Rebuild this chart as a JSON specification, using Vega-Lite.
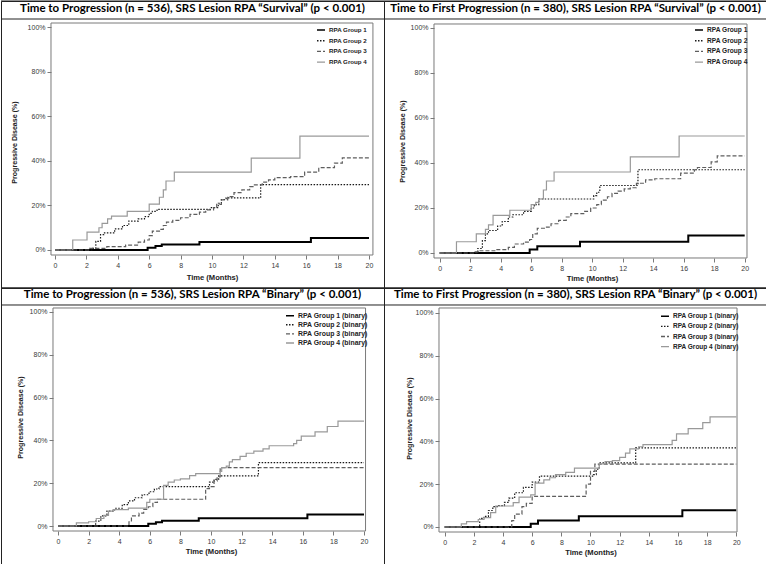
{
"$schema": "https://vega.github.io/schema/vega-lite/v6.json",
"padding": 0,
"background": "white",
"config": {
  "view": {"stroke": "#222", "strokeWidth": 1},
  "title": {"font": "Lato", "fontSize": 11.5, "fontWeight": "bold", "color": "#000", "anchor": "middle", "baseline": "middle"},
  "axis": {"grid": false, "domain": false, "tickSize": 4, "tickColor": "#7a7a7a", "labelFont": "Liberation Sans", "labelFontSize": 7, "labelColor": "#3a3a3a", "labelPadding": 2, "labelFlush": false, "labelOverlap": false, "labelSeparation": 0, "titleFont": "Liberation Sans", "titleFontWeight": "bold", "titleColor": "#222"},
  "axisX": {"titleFontSize": 7.6, "titleBaseline": "top", "titleAlign": "center", "labelOverlap": false},
  "axisY": {"titleFontSize": 7.1, "titleBaseline": "middle", "titleAngle": 270, "titleAlign": "center", "labelOverlap": false},
  "legend": {"orient": "none", "labelFont": "Liberation Sans", "labelFontWeight": "bold", "labelColor": "#222", "symbolType": "stroke", "symbolSize": 64, "symbolStrokeWidth": 1.4, "labelOffset": 3, "padding": 0}
},
"datasets": {
  "tl": [
    {"g":1,"t":0,"p":0},{"g":1,"t":5.9,"p":1.0},{"g":1,"t":6.4,"p":1.8},{"g":1,"t":6.8,"p":2.5},{"g":1,"t":9.2,"p":3.6},{"g":1,"t":16.3,"p":5.4},{"g":1,"t":20,"p":5.4},
    {"g":2,"t":0,"p":0},{"g":2,"t":2.4,"p":0.7},{"g":2,"t":2.6,"p":3.9},{"g":2,"t":2.9,"p":6.9},{"g":2,"t":3.1,"p":7.7},{"g":2,"t":3.8,"p":9.5},{"g":2,"t":4.3,"p":11},{"g":2,"t":4.7,"p":13},{"g":2,"t":5.3,"p":14},{"g":2,"t":5.7,"p":15},{"g":2,"t":6.0,"p":16.5},{"g":2,"t":6.2,"p":17.4},{"g":2,"t":6.5,"p":18.3},{"g":2,"t":9.9,"p":19},{"g":2,"t":10.4,"p":21},{"g":2,"t":10.6,"p":22.7},{"g":2,"t":10.9,"p":23.4},{"g":2,"t":13.1,"p":29.4},{"g":2,"t":20,"p":29.4},
    {"g":3,"t":0,"p":0},{"g":3,"t":2.2,"p":0.7},{"g":3,"t":3.3,"p":1.5},{"g":3,"t":4.5,"p":2.2},{"g":3,"t":5.3,"p":3.5},{"g":3,"t":5.7,"p":4.5},{"g":3,"t":6.0,"p":6.5},{"g":3,"t":6.2,"p":8.5},{"g":3,"t":6.7,"p":9.3},{"g":3,"t":6.9,"p":11},{"g":3,"t":7.1,"p":12.5},{"g":3,"t":7.5,"p":13.3},{"g":3,"t":8.0,"p":14.5},{"g":3,"t":8.6,"p":16},{"g":3,"t":9.2,"p":17},{"g":3,"t":9.6,"p":18},{"g":3,"t":10.1,"p":19},{"g":3,"t":10.3,"p":20.5},{"g":3,"t":10.6,"p":22.5},{"g":3,"t":11.0,"p":24},{"g":3,"t":11.4,"p":25.8},{"g":3,"t":11.9,"p":27},{"g":3,"t":12.4,"p":28.5},{"g":3,"t":12.7,"p":29.3},{"g":3,"t":13.2,"p":30.5},{"g":3,"t":13.6,"p":31.5},{"g":3,"t":14.0,"p":32.5},{"g":3,"t":15.0,"p":33},{"g":3,"t":15.9,"p":35},{"g":3,"t":16.8,"p":37},{"g":3,"t":17.8,"p":39},{"g":3,"t":18.3,"p":41.4},{"g":3,"t":20,"p":41.4},
    {"g":4,"t":0,"p":0},{"g":4,"t":1.13,"p":4.5},{"g":4,"t":2.04,"p":8},{"g":4,"t":2.8,"p":10},{"g":4,"t":3.0,"p":12},{"g":4,"t":3.35,"p":14},{"g":4,"t":3.6,"p":15.2},{"g":4,"t":4.6,"p":17.4},{"g":4,"t":6.0,"p":20.6},{"g":4,"t":6.65,"p":23.7},{"g":4,"t":6.9,"p":27},{"g":4,"t":7.07,"p":31},{"g":4,"t":7.6,"p":35},{"g":4,"t":12.5,"p":41.3},{"g":4,"t":15.6,"p":51.2},{"g":4,"t":20,"p":51.2}
  ],
  "tr": [
    {"g":1,"t":0,"p":0},{"g":1,"t":5.9,"p":1.5},{"g":1,"t":6.4,"p":3.0},{"g":1,"t":9.2,"p":5.0},{"g":1,"t":16.3,"p":7.8},{"g":1,"t":20,"p":7.8},
    {"g":2,"t":0,"p":0},{"g":2,"t":2.5,"p":2},{"g":2,"t":2.8,"p":5.5},{"g":2,"t":3.0,"p":8.5},{"g":2,"t":3.2,"p":10},{"g":2,"t":3.8,"p":12},{"g":2,"t":4.1,"p":14},{"g":2,"t":4.5,"p":16},{"g":2,"t":4.8,"p":17},{"g":2,"t":5.5,"p":18.5},{"g":2,"t":6.0,"p":20},{"g":2,"t":6.2,"p":21.5},{"g":2,"t":6.5,"p":24},{"g":2,"t":10.1,"p":25.5},{"g":2,"t":10.3,"p":27},{"g":2,"t":10.5,"p":30},{"g":2,"t":13.0,"p":37},{"g":2,"t":20,"p":37},
    {"g":3,"t":0,"p":0},{"g":3,"t":2.2,"p":0.5},{"g":3,"t":2.5,"p":1},{"g":3,"t":3.7,"p":1.5},{"g":3,"t":4.5,"p":2.5},{"g":3,"t":4.9,"p":4},{"g":3,"t":5.5,"p":4.8},{"g":3,"t":5.9,"p":6},{"g":3,"t":6.1,"p":8.5},{"g":3,"t":6.4,"p":11},{"g":3,"t":7.0,"p":11.5},{"g":3,"t":7.3,"p":13},{"g":3,"t":7.8,"p":14.5},{"g":3,"t":8.3,"p":16},{"g":3,"t":8.6,"p":17.5},{"g":3,"t":9.5,"p":18.5},{"g":3,"t":9.9,"p":20},{"g":3,"t":10.3,"p":21.5},{"g":3,"t":10.6,"p":23.5},{"g":3,"t":11.0,"p":25},{"g":3,"t":11.3,"p":26.5},{"g":3,"t":11.7,"p":27.5},{"g":3,"t":12.1,"p":28.5},{"g":3,"t":12.5,"p":29},{"g":3,"t":12.9,"p":31},{"g":3,"t":13.5,"p":32.5},{"g":3,"t":14.1,"p":33},{"g":3,"t":15.8,"p":35.5},{"g":3,"t":16.7,"p":37},{"g":3,"t":16.9,"p":38},{"g":3,"t":17.8,"p":40.5},{"g":3,"t":18.2,"p":43.2},{"g":3,"t":20,"p":43.2},
    {"g":4,"t":0,"p":0},{"g":4,"t":1.1,"p":5},{"g":4,"t":2.4,"p":8.5},{"g":4,"t":3.0,"p":10.5},{"g":4,"t":3.2,"p":12.5},{"g":4,"t":3.5,"p":16.7},{"g":4,"t":4.6,"p":19},{"g":4,"t":6.0,"p":21.5},{"g":4,"t":6.3,"p":22.5},{"g":4,"t":6.5,"p":24},{"g":4,"t":6.8,"p":28},{"g":4,"t":7.0,"p":32},{"g":4,"t":7.5,"p":36},{"g":4,"t":12.5,"p":42.7},{"g":4,"t":15.7,"p":52},{"g":4,"t":20,"p":52}
  ],
  "bl": [
    {"g":1,"t":0,"p":0},{"g":1,"t":5.9,"p":1.0},{"g":1,"t":6.4,"p":1.8},{"g":1,"t":6.8,"p":2.5},{"g":1,"t":9.2,"p":3.6},{"g":1,"t":16.3,"p":5.4},{"g":1,"t":20,"p":5.4},
    {"g":2,"t":0,"p":0},{"g":2,"t":2.46,"p":2.3},{"g":2,"t":2.8,"p":4.7},{"g":2,"t":3.2,"p":7},{"g":2,"t":3.7,"p":8.3},{"g":2,"t":4.2,"p":10},{"g":2,"t":4.6,"p":11.7},{"g":2,"t":5.0,"p":13.2},{"g":2,"t":5.5,"p":14.6},{"g":2,"t":5.95,"p":16},{"g":2,"t":6.3,"p":17.3},{"g":2,"t":6.6,"p":18.4},{"g":2,"t":9.9,"p":20.5},{"g":2,"t":10.2,"p":21.8},{"g":2,"t":10.5,"p":23.4},{"g":2,"t":13.1,"p":29.6},{"g":2,"t":20,"p":29.6},
    {"g":3,"t":0,"p":0},{"g":3,"t":4.64,"p":2},{"g":3,"t":4.8,"p":4.7},{"g":3,"t":5.3,"p":6},{"g":3,"t":5.6,"p":7.8},{"g":3,"t":5.9,"p":9},{"g":3,"t":6.2,"p":11},{"g":3,"t":6.5,"p":12.5},{"g":3,"t":9.65,"p":17.5},{"g":3,"t":9.9,"p":18.4},{"g":3,"t":10.2,"p":21},{"g":3,"t":10.4,"p":23},{"g":3,"t":10.6,"p":27.3},{"g":3,"t":20,"p":27.3},
    {"g":4,"t":0,"p":0},{"g":4,"t":1.2,"p":1.5},{"g":4,"t":2.0,"p":2.0},{"g":4,"t":2.5,"p":3.5},{"g":4,"t":3.0,"p":5},{"g":4,"t":3.3,"p":7},{"g":4,"t":3.6,"p":7.7},{"g":4,"t":4.6,"p":8.4},{"g":4,"t":5.8,"p":11},{"g":4,"t":6.0,"p":12.5},{"g":4,"t":6.9,"p":19},{"g":4,"t":7.2,"p":20.5},{"g":4,"t":7.6,"p":21.5},{"g":4,"t":8.0,"p":22},{"g":4,"t":8.6,"p":23.5},{"g":4,"t":9.0,"p":24.5},{"g":4,"t":10.6,"p":25.5},{"g":4,"t":10.7,"p":27.3},{"g":4,"t":11.0,"p":28},{"g":4,"t":11.2,"p":30},{"g":4,"t":11.4,"p":31},{"g":4,"t":11.9,"p":32.5},{"g":4,"t":12.3,"p":34},{"g":4,"t":12.8,"p":35},{"g":4,"t":13.4,"p":36},{"g":4,"t":13.8,"p":37.5},{"g":4,"t":15.4,"p":38.5},{"g":4,"t":15.6,"p":40},{"g":4,"t":15.9,"p":42},{"g":4,"t":16.8,"p":44},{"g":4,"t":17.6,"p":46.5},{"g":4,"t":18.3,"p":49},{"g":4,"t":20,"p":49}
  ],
  "br": [
    {"g":1,"t":0,"p":0},{"g":1,"t":5.9,"p":1.5},{"g":1,"t":6.4,"p":3.0},{"g":1,"t":9.2,"p":5.0},{"g":1,"t":16.3,"p":7.8},{"g":1,"t":20,"p":7.8},
    {"g":2,"t":0,"p":0},{"g":2,"t":2.4,"p":4},{"g":2,"t":2.7,"p":5},{"g":2,"t":3.0,"p":7.7},{"g":2,"t":3.3,"p":9.5},{"g":2,"t":3.7,"p":10},{"g":2,"t":4.1,"p":11.5},{"g":2,"t":4.4,"p":13.5},{"g":2,"t":4.8,"p":16},{"g":2,"t":5.4,"p":18.5},{"g":2,"t":6.0,"p":21},{"g":2,"t":6.5,"p":23.8},{"g":2,"t":10.2,"p":24.5},{"g":2,"t":10.4,"p":27},{"g":2,"t":10.6,"p":30},{"g":2,"t":13.1,"p":37},{"g":2,"t":20,"p":37},
    {"g":3,"t":0,"p":0},{"g":3,"t":4.6,"p":3},{"g":3,"t":4.8,"p":6},{"g":3,"t":5.3,"p":9.5},{"g":3,"t":5.6,"p":11},{"g":3,"t":6.0,"p":14.3},{"g":3,"t":9.7,"p":20},{"g":3,"t":10.0,"p":26},{"g":3,"t":10.3,"p":29.4},{"g":3,"t":20,"p":29.4},
    {"g":4,"t":0,"p":0},{"g":4,"t":1.14,"p":1.5},{"g":4,"t":1.5,"p":2.5},{"g":4,"t":2.3,"p":3.5},{"g":4,"t":2.7,"p":4.4},{"g":4,"t":3.15,"p":6.7},{"g":4,"t":3.5,"p":9.8},{"g":4,"t":4.7,"p":11.4},{"g":4,"t":5.1,"p":14},{"g":4,"t":5.9,"p":15},{"g":4,"t":6.2,"p":20.5},{"g":4,"t":6.8,"p":22},{"g":4,"t":7.2,"p":23},{"g":4,"t":7.6,"p":24.5},{"g":4,"t":8.3,"p":25.5},{"g":4,"t":8.9,"p":27.5},{"g":4,"t":10.6,"p":29.5},{"g":4,"t":11.0,"p":30.5},{"g":4,"t":11.5,"p":31},{"g":4,"t":12.0,"p":32.5},{"g":4,"t":12.4,"p":34.5},{"g":4,"t":12.7,"p":36.5},{"g":4,"t":13.3,"p":37.5},{"g":4,"t":13.6,"p":38.5},{"g":4,"t":15.6,"p":40.5},{"g":4,"t":15.9,"p":43.5},{"g":4,"t":16.7,"p":46},{"g":4,"t":17.7,"p":48.8},{"g":4,"t":18.2,"p":51.5},{"g":4,"t":20,"p":51.5}
  ]
},
"columns": 2,
"spacing": 0,
"bounds": "flush",
"resolve": {"scale": {"x": "independent", "y": "independent", "color": "independent", "strokeDash": "independent"}, "legend": {"color": "independent", "strokeDash": "independent"}, "axis": {"x": "independent", "y": "independent"}},
"concat": [
   {
    "width": 383, "height": 287,
    "title": {"text": "Time to Progression (n = 536), SRS Lesion RPA “Survival” (p  <  0.001)", "offset": -13.5},
    "layer": [
     {"data": {"name": "tl"}, "mark": {"type": "line", "interpolate": "step-after"},
      "encoding": {
       "x": {"field": "t", "type": "quantitative", "title": "Time (Months)", "scale": {"domain": [-3.439, 20.955], "nice": false, "zero": false}, "axis": {"values": [0,2,4,6,8,10,12,14,16,18,20], "labelOverlap": false, "offset": -33, "titleX": 211, "titleY": 18}},
       "y": {"field": "p", "type": "quantitative", "title": "Progressive Disease (%)", "scale": {"domain": [-17.08, 111.91], "nice": false, "zero": false}, "axis": {"values": [0,20,40,60,80,100], "labelOverlap": false, "labelExpr": "datum.value + '%'", "offset": -50, "titleX": -37, "titleY": 141}},
       "color": {"field": "g", "type": "nominal", "scale": {"domain": [1,2,3,4], "range": ["#000000", "#1a1a1a", "#5e5e5e", "#999999"]}, "legend": {"title": null, "legendX": 315, "legendY": 24, "labelFontSize": 6.2, "rowPadding": 1.7, "labelExpr": "'RPA Group ' + datum.label"}},
       "strokeDash": {"field": "g", "type": "nominal", "scale": {"domain": [1,2,3,4], "range": [[1,0],[1.5,1.5],[4,2],[1,0]]}, "legend": {"title": null, "legendX": 315, "legendY": 24, "labelFontSize": 6.2, "rowPadding": 1.7, "labelExpr": "'RPA Group ' + datum.label"}},
       "strokeWidth": {"condition": {"test": "datum.g == 1", "value": 2}, "value": 1.2}
      }},
     {"data": {"values": [{}]}, "mark": {"type": "rect", "fillOpacity": 0, "stroke": "#7a7a7a", "strokeWidth": 1},
      "encoding": {"x": {"datum": -0.255, "type": "quantitative", "title": "Time (Months)", "axis": {"values": [0,2,4,6,8,10,12,14,16,18,20], "labelOverlap": false, "offset": -33, "titleX": 211, "titleY": 18}}, "x2": {"datum": 20.25}, "y": {"datum": -2.25, "type": "quantitative", "title": "Progressive Disease (%)", "axis": {"values": [0,20,40,60,80,100], "labelOverlap": false, "labelExpr": "datum.value + '%'", "offset": -50, "titleX": -37, "titleY": 141}}, "y2": {"datum": 102.02}}},
     {"data": {"values": [{"b": 103.82}, {"b": 111.91}, {"b": -17.08}]}, "mark": {"type": "rule", "color": "#222", "strokeWidth": 1},
      "encoding": {"y": {"field": "b", "type": "quantitative", "title": "Progressive Disease (%)", "axis": {"values": [0,20,40,60,80,100], "labelOverlap": false, "labelExpr": "datum.value + '%'", "offset": -50, "titleX": -37, "titleY": 141}}}}
    ]
   },
   {
    "width": 383, "height": 287,
    "title": {"text": "Time to First Progression (n = 380), SRS Lesion RPA “Survival” (p  <  0.001)", "offset": -13.5},
    "layer": [
     {"data": {"name": "tr"}, "mark": {"type": "line", "interpolate": "step-after"},
      "encoding": {
       "x": {"field": "t", "type": "quantitative", "title": "Time (Months)", "scale": {"domain": [-3.652, 21.462], "nice": false, "zero": false}, "axis": {"values": [0,2,4,6,8,10,12,14,16,18,20], "labelOverlap": false, "offset": -30, "titleX": 208, "titleY": 16}},
       "y": {"field": "p", "type": "quantitative", "title": "Progressive Disease (%)", "scale": {"domain": [-15.56, 112.0], "nice": false, "zero": false}, "axis": {"values": [0,20,40,60,80,100], "labelOverlap": false, "labelExpr": "datum.value + '%'", "offset": -50, "titleX": -32, "titleY": 140}},
       "color": {"field": "g", "type": "nominal", "scale": {"domain": [1,2,3,4], "range": ["#000000", "#1a1a1a", "#5e5e5e", "#999999"]}, "legend": {"title": null, "legendX": 310, "legendY": 24, "labelFontSize": 6.6, "rowPadding": 1.7, "labelExpr": "'RPA Group ' + datum.label"}},
       "strokeDash": {"field": "g", "type": "nominal", "scale": {"domain": [1,2,3,4], "range": [[1,0],[1.5,1.5],[4,2],[1,0]]}, "legend": {"title": null, "legendX": 310, "legendY": 24, "labelFontSize": 6.6, "rowPadding": 1.7, "labelExpr": "'RPA Group ' + datum.label"}},
       "strokeWidth": {"condition": {"test": "datum.g == 1", "value": 2}, "value": 1.2}
      }},
     {"data": {"values": [{}]}, "mark": {"type": "rect", "fillOpacity": 0, "stroke": "#7a7a7a", "strokeWidth": 1},
      "encoding": {"x": {"datum": -0.374, "type": "quantitative", "title": "Time (Months)", "axis": {"values": [0,2,4,6,8,10,12,14,16,18,20], "labelOverlap": false, "offset": -30, "titleX": 208, "titleY": 16}}, "x2": {"datum": 20.15}, "y": {"datum": -2.22, "type": "quantitative", "title": "Progressive Disease (%)", "axis": {"values": [0,20,40,60,80,100], "labelOverlap": false, "labelExpr": "datum.value + '%'", "offset": -50, "titleX": -32, "titleY": 140}}, "y2": {"datum": 101.78}}},
     {"data": {"values": [{"b": 104.0}, {"b": 112.0}, {"b": -15.56}]}, "mark": {"type": "rule", "color": "#222", "strokeWidth": 1},
      "encoding": {"y": {"field": "b", "type": "quantitative", "title": "Progressive Disease (%)", "axis": {"values": [0,20,40,60,80,100], "labelOverlap": false, "labelExpr": "datum.value + '%'", "offset": -50, "titleX": -32, "titleY": 140}}}}
    ]
   },
   {
    "width": 383, "height": 277,
    "title": {"text": "Time to Progression (n = 536), SRS Lesion RPA “Binary” (p  < 0.001)", "offset": -12.5},
    "layer": [
     {"data": {"name": "bl"}, "mark": {"type": "line", "interpolate": "step-after"},
      "encoding": {
       "x": {"field": "t", "type": "quantitative", "title": "Time (Months)", "scale": {"domain": [-3.725, 21.307], "nice": false, "zero": false}, "axis": {"values": [0,2,4,6,8,10,12,14,16,18,20], "labelOverlap": false, "offset": -34, "titleX": 210, "titleY": 16}},
       "y": {"field": "p", "type": "quantitative", "title": "Progressive Disease (%)", "scale": {"domain": [-18.22, 111.21], "nice": false, "zero": false}, "axis": {"values": [0,20,40,60,80,100], "labelOverlap": false, "labelExpr": "datum.value + '%'", "offset": -52, "titleX": -33, "titleY": 129}},
       "color": {"field": "g", "type": "nominal", "scale": {"domain": [1,2,3,4], "range": ["#000000", "#1a1a1a", "#5e5e5e", "#999999"]}, "legend": {"title": null, "legendX": 284, "legendY": 22.7, "labelFontSize": 6.9, "rowPadding": 1.1, "labelExpr": "'RPA Group ' + datum.label + ' (binary)'"}},
       "strokeDash": {"field": "g", "type": "nominal", "scale": {"domain": [1,2,3,4], "range": [[1,0],[1.5,1.5],[4,2],[1,0]]}, "legend": {"title": null, "legendX": 284, "legendY": 22.7, "labelFontSize": 6.9, "rowPadding": 1.1, "labelExpr": "'RPA Group ' + datum.label + ' (binary)'"}},
       "strokeWidth": {"condition": {"test": "datum.g == 1", "value": 2}, "value": 1.2}
      }},
     {"data": {"values": [{}]}, "mark": {"type": "rect", "fillOpacity": 0, "stroke": "#7a7a7a", "strokeWidth": 1},
      "encoding": {"x": {"datum": -0.327, "type": "quantitative", "title": "Time (Months)", "axis": {"values": [0,2,4,6,8,10,12,14,16,18,20], "labelOverlap": false, "offset": -34, "titleX": 210, "titleY": 16}}, "x2": {"datum": 20.1}, "y": {"datum": -2.34, "type": "quantitative", "title": "Progressive Disease (%)", "axis": {"values": [0,20,40,60,80,100], "labelOverlap": false, "labelExpr": "datum.value + '%'", "offset": -52, "titleX": -33, "titleY": 129}}, "y2": {"datum": 101.87}}},
     {"data": {"values": [{"b": 103.27}, {"b": 111.21}, {"b": -18.22}]}, "mark": {"type": "rule", "color": "#222", "strokeWidth": 1},
      "encoding": {"y": {"field": "b", "type": "quantitative", "title": "Progressive Disease (%)", "axis": {"values": [0,20,40,60,80,100], "labelOverlap": false, "labelExpr": "datum.value + '%'", "offset": -52, "titleX": -33, "titleY": 129}}}}
    ]
   },
   {
    "width": 383, "height": 277,
    "title": {"text": "Time to First Progression (n = 380), SRS Lesion RPA “Binary” (p  <  0.001)", "offset": -12.5},
    "layer": [
     {"data": {"name": "br"}, "mark": {"type": "line", "interpolate": "step-after"},
      "encoding": {
       "x": {"field": "t", "type": "quantitative", "title": "Time (Months)", "scale": {"domain": [-4.163, 22.106], "nice": false, "zero": false}, "axis": {"values": [0,2,4,6,8,10,12,14,16,18,20], "labelOverlap": false, "offset": -33, "titleX": 206.5, "titleY": 16}},
       "y": {"field": "p", "type": "quantitative", "title": "Progressive Disease (%)", "scale": {"domain": [-17.76, 111.68], "nice": false, "zero": false}, "axis": {"values": [0,20,40,60,80,100], "labelOverlap": false, "labelExpr": "datum.value + '%'", "offset": -55, "titleX": -30, "titleY": 130}},
       "color": {"field": "g", "type": "nominal", "scale": {"domain": [1,2,3,4], "range": ["#000000", "#1a1a1a", "#5e5e5e", "#999999"]}, "legend": {"title": null, "legendX": 276, "legendY": 23.3, "labelFontSize": 6.5, "rowPadding": 1.1, "labelExpr": "'RPA Group ' + datum.label + ' (binary)'"}},
       "strokeDash": {"field": "g", "type": "nominal", "scale": {"domain": [1,2,3,4], "range": [[1,0],[1.5,1.5],[4,2],[1,0]]}, "legend": {"title": null, "legendX": 276, "legendY": 23.3, "labelFontSize": 6.5, "rowPadding": 1.1, "labelExpr": "'RPA Group ' + datum.label + ' (binary)'"}},
       "strokeWidth": {"condition": {"test": "datum.g == 1", "value": 2}, "value": 1.2}
      }},
     {"data": {"values": [{}]}, "mark": {"type": "rect", "fillOpacity": 0, "stroke": "#7a7a7a", "strokeWidth": 1},
      "encoding": {"x": {"datum": -0.391, "type": "quantitative", "title": "Time (Months)", "axis": {"values": [0,2,4,6,8,10,12,14,16,18,20], "labelOverlap": false, "offset": -33, "titleX": 206.5, "titleY": 16}}, "x2": {"datum": 20.05}, "y": {"datum": -2.34, "type": "quantitative", "title": "Progressive Disease (%)", "axis": {"values": [0,20,40,60,80,100], "labelOverlap": false, "labelExpr": "datum.value + '%'", "offset": -55, "titleX": -30, "titleY": 130}}, "y2": {"datum": 102.34}}},
     {"data": {"values": [{"b": 103.74}, {"b": 111.68}, {"b": -17.76}]}, "mark": {"type": "rule", "color": "#222", "strokeWidth": 1},
      "encoding": {"y": {"field": "b", "type": "quantitative", "title": "Progressive Disease (%)", "axis": {"values": [0,20,40,60,80,100], "labelOverlap": false, "labelExpr": "datum.value + '%'", "offset": -55, "titleX": -30, "titleY": 130}}}}
    ]
   }
]
}
